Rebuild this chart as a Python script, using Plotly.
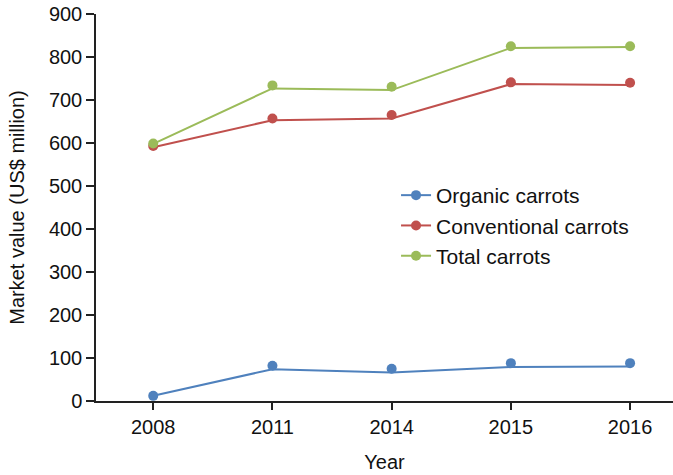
import plotly.graph_objects as go

# Carrot market value by year (US$ million)
years = ["2008", "2011", "2014", "2015", "2016"]

# values along the connecting lines
organic_line = [12, 74, 66, 79, 80]
conventional_line = [590, 653, 657, 737, 735]
total_line = [598, 727, 723, 821, 823]

# values at the plotted dots
organic_pts = [12, 82, 75, 88, 88]
conventional_pts = [593, 657, 665, 741, 740]
total_pts = [599, 734, 731, 825, 825]

series_names = ["Organic carrots", "Conventional carrots", "Total carrots"]
colors = ["#4F81BD", "#C0504D", "#9BBB59"]
lines = [organic_line, conventional_line, total_line]
points = [organic_pts, conventional_pts, total_pts]

FONT = "Liberation Sans, Arial, Helvetica, sans-serif"

fig = go.Figure()

for name, color, ln, pt in zip(series_names, colors, lines, points):
    fig.add_trace(go.Scatter(
        x=years, y=ln, mode="lines",
        line=dict(color=color, width=2),
        showlegend=False, hoverinfo="skip",
    ))
    fig.add_trace(go.Scatter(
        x=years, y=pt, mode="markers",
        marker=dict(color=color, size=10),
        name=name, showlegend=False,
    ))

# legend entries showing line + dot
for name, color in zip(series_names, colors):
    fig.add_trace(go.Scatter(
        x=[None], y=[None], mode="lines+markers",
        line=dict(color=color, width=2),
        marker=dict(color=color, size=10),
        name=name, showlegend=True,
    ))

fig.update_layout(
    width=673, height=475,
    margin=dict(l=96, r=0, t=14, b=74),
    paper_bgcolor="white", plot_bgcolor="white",
    font=dict(family=FONT, size=20, color="#111111"),
    showlegend=True,
    legend=dict(
        x=0.52, y=0.584, xanchor="left", yanchor="top",
        bgcolor="rgba(0,0,0,0)", borderwidth=0,
        font=dict(family=FONT, size=21, color="#111111"),
        tracegroupgap=0, itemclick=False,
    ),
    xaxis=dict(
        type="category", categoryorder="array", categoryarray=years,
        range=[-0.48, 4.36],
        showline=True, linecolor="#222222", linewidth=1.5,
        ticks="outside", ticklen=7, tickcolor="#222222", tickwidth=1.5,
        showgrid=False, zeroline=False,
        title=dict(text="Year", standoff=18, font=dict(size=20)),
        tickfont=dict(size=20),
    ),
    yaxis=dict(
        range=[0, 900], tickvals=[0, 100, 200, 300, 400, 500, 600, 700, 800, 900],
        showline=True, linecolor="#222222", linewidth=1.5,
        ticks="outside", ticklen=8, tickcolor="#222222", tickwidth=1.5,
        showgrid=False, zeroline=False,
        title=dict(text="Market value (US$ million)", standoff=19, font=dict(size=20)),
        tickfont=dict(size=20),
    ),
)

fig.write_html("out.html")
